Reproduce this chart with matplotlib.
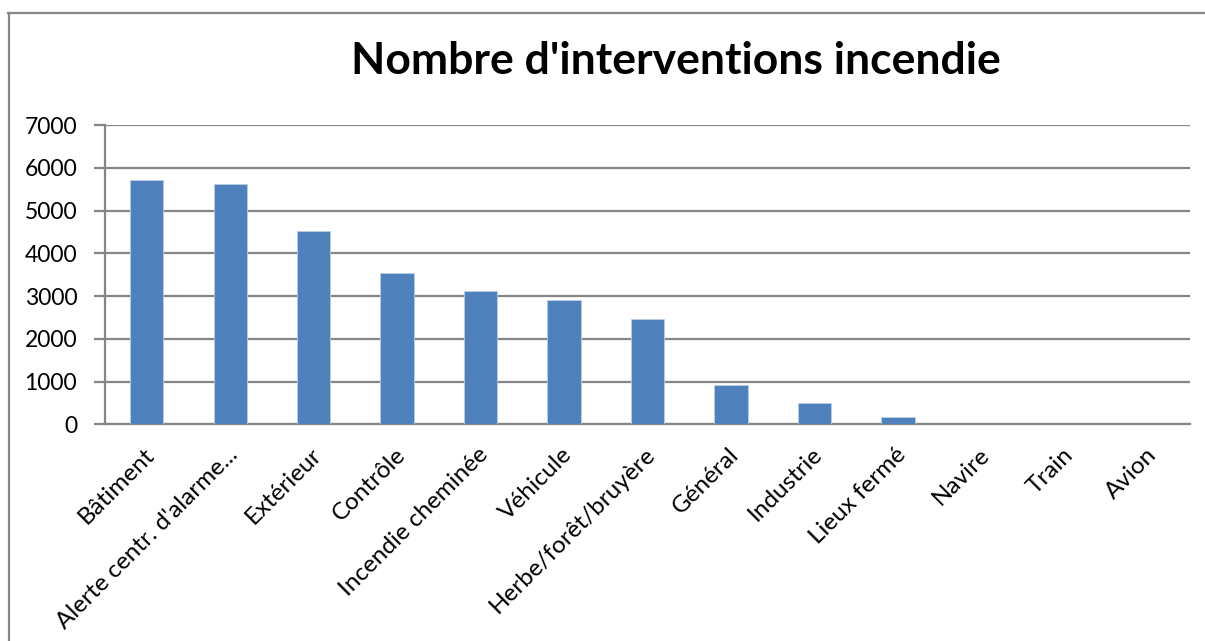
import matplotlib
matplotlib.use("Agg")
import matplotlib.pyplot as plt
from matplotlib.lines import Line2D
from matplotlib.transforms import ScaledTranslation

categories = ["Bâtiment", "Alerte centr. d'alarme...", "Extérieur", "Contrôle",
              "Incendie cheminée", "Véhicule", "Herbe/forêt/bruyère", "Général",
              "Industrie", "Lieux fermé", "Navire", "Train", "Avion"]
values = [5710, 5610, 4525, 3550, 3120, 2910, 2460, 915, 495, 172, 0, 0, 0]
yticks = [0, 1000, 2000, 3000, 4000, 5000, 6000, 7000]
title = "Nombre d'interventions incendie"

W, H = 1205, 641
plt.rcParams['font.family'] = ['Lato', 'DejaVu Sans']
fig = plt.figure(figsize=(W / 100, H / 100), dpi=100)
fig.patch.set_facecolor('white')

ax = fig.add_axes([105 / W, 1 - 424.3 / H, (1190 - 105) / W, (424.3 - 125) / H])
x = list(range(len(categories)))
ax.bar(x, values, width=0.4, color='#4F81BD', edgecolor='#B9CDE5', linewidth=0.6, zorder=3)
ax.set_xlim(-0.5, len(categories) - 0.5)
ax.set_ylim(0, 7000)
ax.set_yticks(yticks)
ax.set_yticklabels([str(t) for t in yticks], fontsize=16.5)
ax.yaxis.grid(True, color='#868686', linewidth=1.6, zorder=0)
ax.set_axisbelow(True)
for s in ['top', 'right']:
    ax.spines[s].set_visible(False)
for s in ['left', 'bottom']:
    ax.spines[s].set_color('#868686')
    ax.spines[s].set_linewidth(1.6)
ax.tick_params(axis='y', length=8, width=1.6, color='#868686', pad=12)
ax.tick_params(axis='x', length=0, pad=14)
ax.set_xticks(x)
ax.set_xticklabels(categories, rotation=45, ha='right', va='top', rotation_mode='anchor', fontsize=17.5)
shift = ScaledTranslation(-2 / 72, 0, fig.dpi_scale_trans)
for lbl in ax.get_xticklabels():
    lbl.set_transform(lbl.get_transform() + shift)

fig.text(676 / W, 1 - 74 / H, title, ha='center', va='baseline', fontsize=32, fontweight='bold')

fig.add_artist(Line2D([8 / W, 1.0], [1 - 13 / H, 1 - 13 / H], color='#878787', linewidth=1.6,
                      transform=fig.transFigure))
fig.add_artist(Line2D([9 / W, 9 / W], [1 - 13 / H, 0], color='#878787', linewidth=1.6,
                      transform=fig.transFigure))

fig.savefig('out.png', dpi=100, facecolor='white')
